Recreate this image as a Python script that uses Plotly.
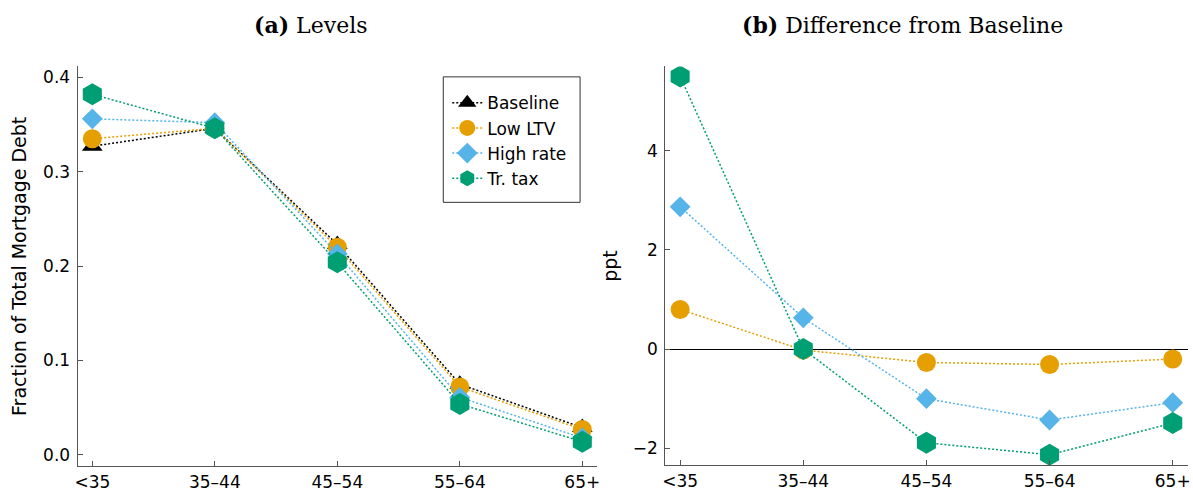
import plotly.graph_objects as go

# Age groups of the household head
age_groups = ["<35", "35–44", "45–54", "55–64", "65+"]
x_pos = [0, 1, 2, 3, 4]

# Share of total mortgage debt held by each age group
baseline_level = [0.327, 0.346, 0.223, 0.075, 0.029]
low_ltv_level = [0.335, 0.346, 0.220, 0.072, 0.027]
high_rate_level = [0.356, 0.352, 0.213, 0.061, 0.018]
tr_tax_level = [0.382, 0.346, 0.204, 0.054, 0.014]

# Change relative to the baseline, percentage points
low_ltv_diff = [0.80, -0.02, -0.27, -0.31, -0.20]
high_rate_diff = [2.87, 0.63, -1.00, -1.43, -1.08]
tr_tax_diff = [5.50, 0.00, -1.89, -2.13, -1.49]

BLACK = "#000000"
ORANGE = "#E69F00"
SKY = "#56B4E9"
GREEN = "#009E73"

W, H = 1193, 492
FONT = "DejaVu Sans"
SERIF = "DejaVu Serif"


def px_x(v):
    return v / W


def px_y(v):
    return 1 - v / H


fig = go.Figure()


def add_series(x, y, name, color, symbol, size, xa, ya, show):
    fig.add_trace(go.Scatter(
        x=x, y=y, name=name, mode="lines+markers",
        line=dict(color=color, width=1.5, dash="2px,2px"),
        marker=dict(color=color, symbol=symbol, size=size, line=dict(width=0)),
        xaxis=xa, yaxis=ya, showlegend=show,
    ))


# Panel (a): levels
add_series(x_pos, baseline_level, "Baseline", BLACK, "triangle-up", 18, "x", "y", True)
add_series(x_pos, low_ltv_level, "Low LTV", ORANGE, "circle", 19, "x", "y", True)
add_series(x_pos, high_rate_level, "High rate", SKY, "diamond", 16, "x", "y", True)
add_series(x_pos, tr_tax_level, "Tr. tax", GREEN, "hexagon", 22, "x", "y", True)

# Panel (b): differences from baseline
add_series(x_pos, low_ltv_diff, "Low LTV", ORANGE, "circle", 19, "x2", "y2", False)
add_series(x_pos, high_rate_diff, "High rate", SKY, "diamond", 16, "x2", "y2", False)
add_series(x_pos, tr_tax_diff, "Tr. tax", GREEN, "hexagon", 22, "x2", "y2", False)

axis_common = dict(
    showgrid=False, showline=True, linecolor="#555555", linewidth=1.2,
    ticks="inside", ticklen=5, tickcolor="#555555", tickwidth=1,
    tickfont=dict(family=FONT, size=17, color="black"), mirror=False,
)

fig.update_layout(
    width=W, height=H, autosize=False,
    margin=dict(l=0, r=0, t=0, b=0),
    paper_bgcolor="white", plot_bgcolor="white",
    font=dict(family=FONT, color="black"),
    xaxis=dict(domain=[px_x(75), px_x(597)], range=[-0.12, 4.12],
               tickvals=x_pos, ticktext=age_groups, anchor="y",
               zeroline=False, **axis_common),
    yaxis=dict(domain=[px_y(470), px_y(67)], range=[-0.0119, 0.4115],
               tickvals=[0.0, 0.1, 0.2, 0.3, 0.4], tickformat=".1f",
               anchor="x", zeroline=False, ticklabelstandoff=3,
               title=dict(text="Fraction of Total Mortgage Debt",
                          font=dict(family=FONT, size=19), standoff=11),
               **axis_common),
    xaxis2=dict(domain=[px_x(665.7), px_x(1190.5)], range=[-0.12, 4.12],
                tickvals=x_pos, ticktext=age_groups, anchor="y2",
                zeroline=False, **axis_common),
    yaxis2=dict(domain=[px_y(469.3), px_y(67)], range=[-2.347, 5.7],
                tickvals=[-2, 0, 2, 4], anchor="x2", ticklabelstandoff=3,
                zeroline=True, zerolinecolor="black", zerolinewidth=1,
                title=dict(text="ppt", font=dict(family=FONT, size=19), standoff=10),
                **axis_common),
    legend=dict(
        x=px_x(446.5), y=px_y(86), xanchor="left", yanchor="top",
        bgcolor="rgba(0,0,0,0)", borderwidth=0,
        font=dict(family=FONT, size=17), tracegroupgap=0,
        itemsizing="trace",
    ),
    shapes=[
        # legend frame
        dict(type="rect", xref="paper", yref="paper",
             x0=px_x(442.5), x1=px_x(580), y0=px_y(204), y1=px_y(77.5),
             line=dict(color="#333333", width=1), fillcolor="white",
             layer="above"),
    ],
    annotations=[
        dict(text="<b>(a)</b> Levels", x=px_x(309), y=px_y(25),
             xref="paper", yref="paper", showarrow=False,
             xanchor="center", yanchor="middle",
             font=dict(family=SERIF, size=22, color="black")),
        dict(text="<b>(b)</b> Difference from Baseline", x=px_x(904), y=px_y(25),
             xref="paper", yref="paper", showarrow=False,
             xanchor="center", yanchor="middle",
             font=dict(family=SERIF, size=22, color="black")),
    ],
)

fig.write_html("out.html")
